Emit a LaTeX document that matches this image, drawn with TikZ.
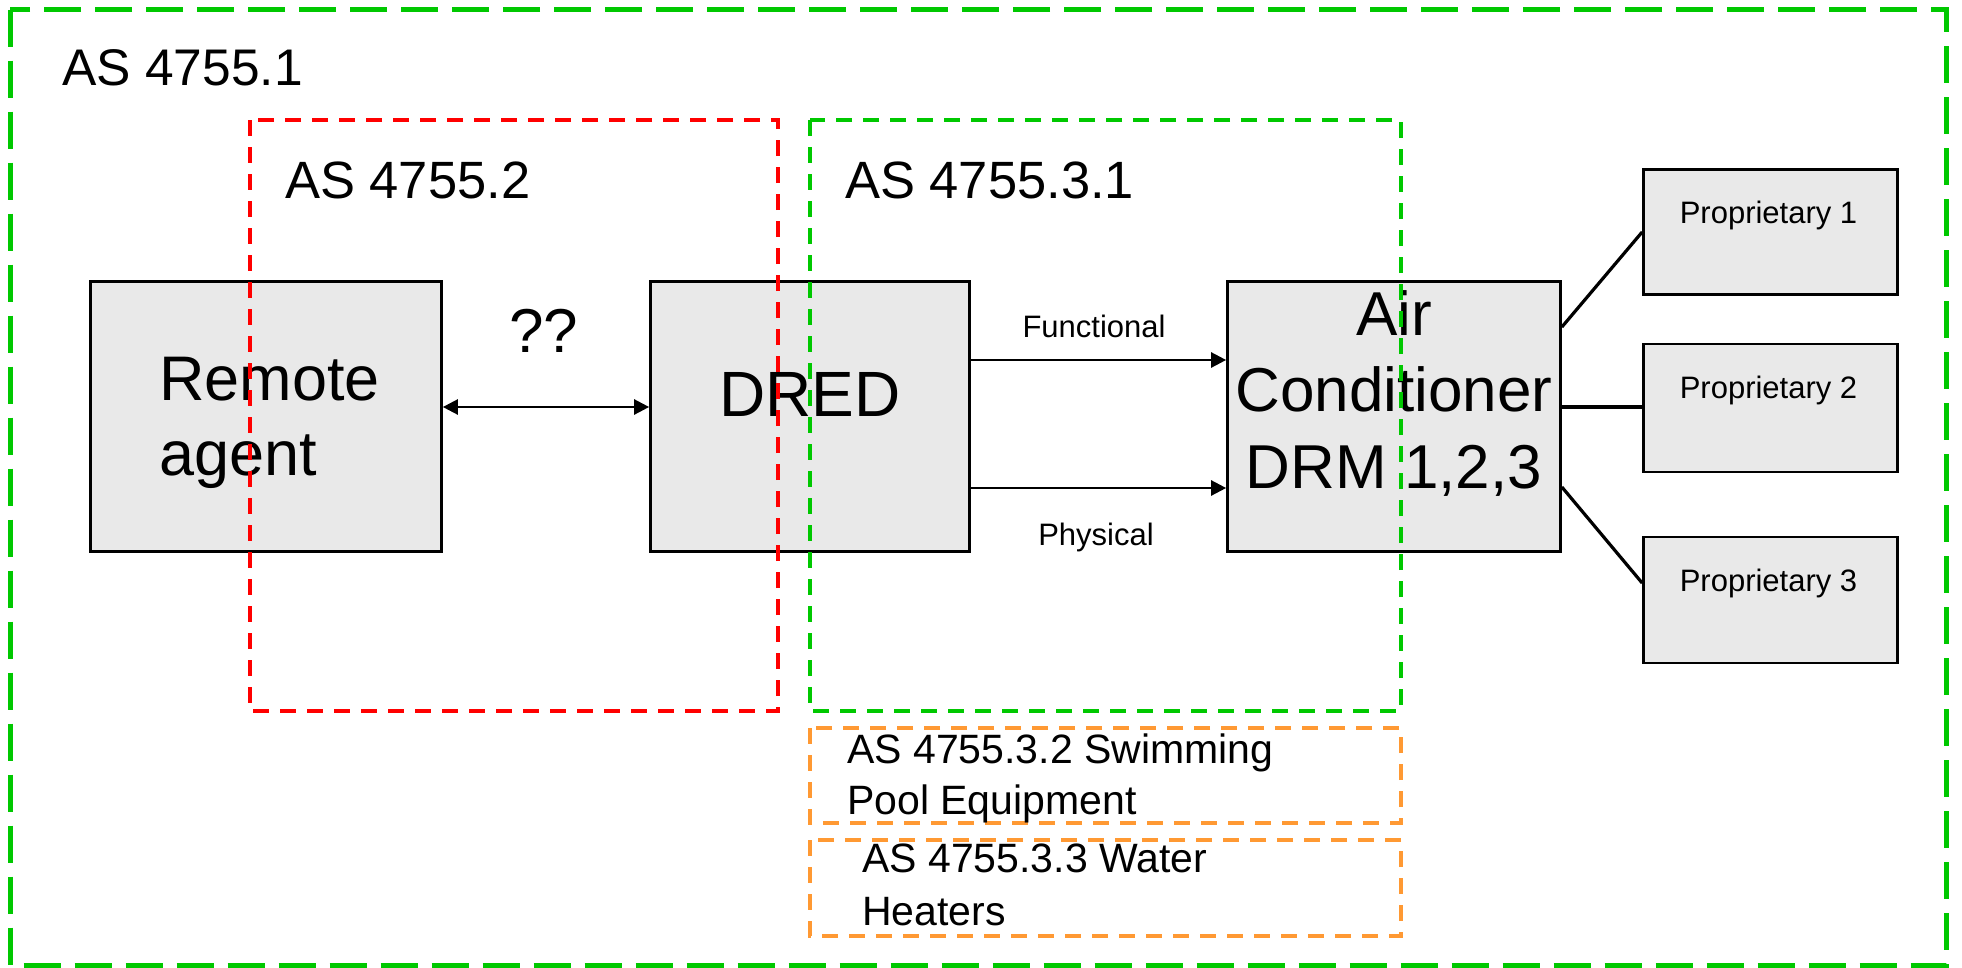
\documentclass[tikz,border=0pt]{standalone}
\usepackage{fontspec}
\setmainfont{Liberation Sans}
\usetikzlibrary{arrows.meta,calc}

\definecolor{zonegreen}{RGB}{0,200,0}
\definecolor{zonered}{RGB}{255,0,0}
\definecolor{zoneorange}{RGB}{255,153,51}
\definecolor{boxgray}{RGB}{233,233,233}

\newcommand{\fs}[2]{\fontsize{#1}{#2}\selectfont}

\begin{document}
\begin{tikzpicture}[x=1pt,y=-1pt,
  block/.style={draw=black, fill=boxgray, line width=2.7pt, rectangle, inner sep=0pt},
  txt/.style={inner sep=0pt, text=black},
  link/.style={line width=2.5pt, draw=black},
  tie/.style={line width=3.2pt, draw=black},
  flow/.style={link, -{Triangle[length=15pt,width=15pt]}},
  bothflow/.style={link, {Triangle[length=15pt,width=15pt]}-{Triangle[length=15pt,width=15pt]}},
  outerzone/.style={draw=zonegreen, line width=5pt, dash pattern=on 37pt off 14pt},
  zone/.style={line width=4pt, dash pattern=on 16pt off 11pt},
]
\useasboundingbox (0,0) rectangle (1962,967);

% functional blocks
\node[block, minimum width=351pt, minimum height=270pt] (remote) at (266,416.5) {};
\node[block, minimum width=319pt, minimum height=270pt] (dred) at (810,416.5) {};
\node[block, minimum width=333pt, minimum height=270pt] (ac) at (1394,416.5) {};
\node[block, minimum width=254pt, minimum height=125pt] (p1) at (1770.5,232) {};
\node[block, minimum width=254pt, minimum height=128pt] (p2) at (1770.5,408) {};
\node[block, minimum width=254pt, minimum height=126pt] (p3) at (1770.5,600) {};

% block captions (multi-line nodes are placed by their last baseline)
\node[txt, anchor=base west, align=left, font=\fs{63}{75}] (remotetxt) at (159,475) {Remote\\agent};
\node[txt, anchor=base, font=\fs{64}{76}] (dredtxt) at (810,416) {DRED};
\node[txt, anchor=base, align=center, font=\fs{62}{76.5}] (actxt) at (1394,488) {Air\\Conditioner\\DRM 1,2,3};
\node[txt, anchor=base, font=\fs{31}{37}] (p1txt) at ($(p1.north)+(-2,55.5)$) {Proprietary 1};
\node[txt, anchor=base, font=\fs{31}{37}] (p2txt) at ($(p2.north)+(-2,55.5)$) {Proprietary 2};
\node[txt, anchor=base, font=\fs{31}{37}] (p3txt) at ($(p3.north)+(-2,55.5)$) {Proprietary 3};

% connectors
\draw[bothflow] ($(remote.east)+(0,-9.5)$) -- ($(dred.west)+(0,-9.5)$);
\draw[flow] ($(dred.east)+(0,-56.5)$) -- ($(ac.west)+(0,-56.5)$);
\draw[flow] ($(dred.east)+(0,71.5)$) -- ($(ac.west)+(0,71.5)$);
\draw[tie] ($(ac.east)+(0,-89.5)$) -- (p1.west);
\draw[tie] ($(ac.east)+(0,-9.5)$) -- ($(p2.west)+(0,-1)$);
\draw[tie] ($(ac.east)+(0,70.5)$) -- ($(p3.west)+(0,-17)$);

% connector labels
\node[txt, anchor=base, font=\fs{62}{74}] (qq) at (544,352) {??};
\node[txt, anchor=base, font=\fs{31}{37}] (functxt) at (1094,337) {Functional};
\node[txt, anchor=base, font=\fs{31}{37}] (phystxt) at (1096,545) {Physical};

% standard scopes
\draw[outerzone] (10,9.5) rectangle (1946,965);
\draw[zone, draw=zonered] (250,120) rectangle (778,711);
\draw[zone, draw=zonegreen] (810,120) rectangle (1401,711);
\draw[zone, draw=zoneorange] (810,728) rectangle (1401,823);
\draw[zone, draw=zoneorange] (810,840) rectangle (1401,936);

% scope titles
\node[txt, anchor=base west, font=\fs{51.5}{62}] (as1) at (62,85) {AS 4755.1};
\node[txt, anchor=base west, font=\fs{52.5}{62}] (as2) at (285,198) {AS 4755.2};
\node[txt, anchor=base west, font=\fs{52.5}{62}] (as31) at (845,198) {AS 4755.3.1};
\node[txt, anchor=base west, align=left, font=\fs{41}{51}] (as32) at (847,814) {AS 4755.3.2 Swimming\\Pool Equipment};
\node[txt, anchor=base west, align=left, font=\fs{41}{53}] (as33) at (862,925) {AS 4755.3.3 Water\\Heaters};
\end{tikzpicture}
\end{document}
